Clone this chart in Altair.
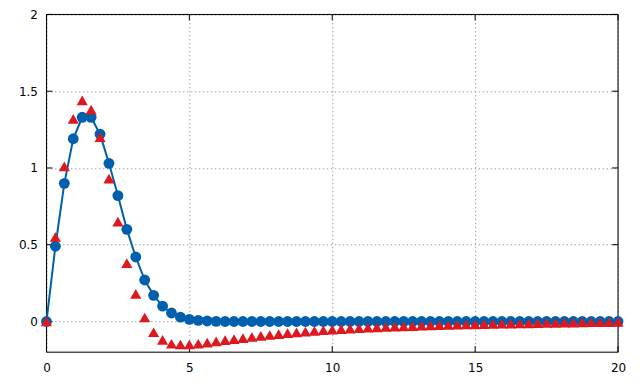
import altair as alt
import pandas as pd

x_vals = [0.0, 0.3125, 0.625, 0.9375, 1.25, 1.5625, 1.875, 2.1875, 2.5, 2.8125,
          3.125, 3.4375, 3.75, 4.0625, 4.375, 4.6875, 5.0, 5.3125, 5.625, 5.9375,
          6.25, 6.5625, 6.875, 7.1875, 7.5, 7.8125, 8.125, 8.4375, 8.75, 9.0625,
          9.375, 9.6875, 10.0, 10.3125, 10.625, 10.9375, 11.25, 11.5625, 11.875, 12.1875,
          12.5, 12.8125, 13.125, 13.4375, 13.75, 14.0625, 14.375, 14.6875, 15.0, 15.3125,
          15.625, 15.9375, 16.25, 16.5625, 16.875, 17.1875, 17.5, 17.8125, 18.125, 18.4375,
          18.75, 19.0625, 19.375, 19.6875, 20.0]

blue_vals = [0.0, 0.49, 0.90, 1.19, 1.33, 1.33, 1.22, 1.03, 0.82, 0.60,
             0.42, 0.27, 0.17, 0.10, 0.055, 0.028, 0.014, 0.007, 0.003, 0.001,
             0, 0, 0, 0, 0, 0, 0, 0, 0, 0,
             0, 0, 0, 0, 0, 0, 0, 0, 0, 0,
             0, 0, 0, 0, 0, 0, 0, 0, 0, 0,
             0, 0, 0, 0, 0, 0, 0, 0, 0, 0,
             0, 0, 0, 0, 0]

red_vals = [0.0, 0.55, 1.01, 1.32, 1.44, 1.38, 1.20, 0.93, 0.65, 0.38,
            0.18, 0.026, -0.07, -0.12, -0.145, -0.15, -0.15, -0.145, -0.138, -0.13,
            -0.122, -0.115, -0.108, -0.101, -0.094, -0.088, -0.082, -0.076, -0.071, -0.066,
            -0.061, -0.057, -0.053, -0.050, -0.047, -0.044, -0.041, -0.039, -0.036, -0.034,
            -0.032, -0.030, -0.028, -0.026, -0.024, -0.023, -0.021, -0.020, -0.019, -0.017,
            -0.016, -0.015, -0.014, -0.013, -0.012, -0.011, -0.010, -0.009, -0.008, -0.007,
            -0.006, -0.005, -0.005, -0.004, -0.003]

x_ticks = [0, 5, 10, 15, 20]
y_ticks = [0, 0.5, 1, 1.5, 2]

W, H = 572, 338
TICK = 6

df = pd.DataFrame({"x": x_vals, "blue": blue_vals, "red": red_vals})

xs = alt.Scale(domain=[0, 20], nice=False, zero=False)
ys = alt.Scale(domain=[-0.2, 2], nice=False, zero=False)

font = "DejaVu Sans"

x_axis = alt.Axis(values=x_ticks, format="~g", grid=True, ticks=False, domain=False, title=None,
                  labelFont=font, labelFontSize=12, labelColor="#000000",
                  labelPadding=10, gridColor="#a0a0a0", gridDash=[1.5, 2.5],
                  gridWidth=1, labelFlush=False)
y_axis = alt.Axis(values=y_ticks, format="~g", grid=True, ticks=False, domain=False, title=None,
                  labelFont=font, labelFontSize=12, labelColor="#000000",
                  labelPadding=9, gridColor="#a0a0a0", gridDash=[1.5, 2.5],
                  gridWidth=1, labelFlush=False)

base = alt.Chart(df)

grid_layer = base.mark_point(opacity=0).encode(
    x=alt.X("x:Q", scale=xs, axis=x_axis),
    y=alt.Y("blue:Q", scale=ys, axis=y_axis),
)

frame = alt.Chart(alt.Data(values=[{"k": 1}])).mark_rect(
    fill=None, stroke="#000000", strokeWidth=1
).encode(x=alt.value(0), x2=alt.value(W), y=alt.value(0), y2=alt.value(H))

xt = alt.Chart(pd.DataFrame({"t": x_ticks}))
yt = alt.Chart(pd.DataFrame({"t": y_ticks}))

xtick_bottom = xt.mark_rule(color="#000000", strokeWidth=1).encode(
    x=alt.X("t:Q", scale=xs), y=alt.value(H), y2=alt.value(H - TICK))
xtick_top = xt.mark_rule(color="#000000", strokeWidth=1).encode(
    x=alt.X("t:Q", scale=xs), y=alt.value(0), y2=alt.value(TICK))
ytick_left = yt.mark_rule(color="#000000", strokeWidth=1).encode(
    y=alt.Y("t:Q", scale=ys), x=alt.value(0), x2=alt.value(TICK))
ytick_right = yt.mark_rule(color="#000000", strokeWidth=1).encode(
    y=alt.Y("t:Q", scale=ys), x=alt.value(W - TICK), x2=alt.value(W))

blue_line = base.mark_line(color="#0060ad", strokeWidth=2).encode(
    x=alt.X("x:Q", scale=xs), y=alt.Y("blue:Q", scale=ys))
blue_pts = base.mark_point(shape="circle", filled=True, color="#0060ad",
                           size=118, opacity=1).encode(
    x=alt.X("x:Q", scale=xs), y=alt.Y("blue:Q", scale=ys))
red_pts = base.mark_point(shape="triangle-up", filled=True, color="#dd181f",
                          size=125, opacity=1).encode(
    x=alt.X("x:Q", scale=xs), y=alt.Y("red:Q", scale=ys))

chart = alt.layer(
    grid_layer, frame, xtick_bottom, xtick_top, ytick_left, ytick_right,
    blue_line, blue_pts, red_pts
).properties(
    width=W, height=H,
    autosize=alt.AutoSizeParams(type="none"),
    padding={"left": 38.5, "top": 6.3, "right": 14, "bottom": 24},
).configure_view(stroke=None).configure(background="#ffffff")

chart.save("out.html", embed_options={"renderer": "svg", "actions": False})
